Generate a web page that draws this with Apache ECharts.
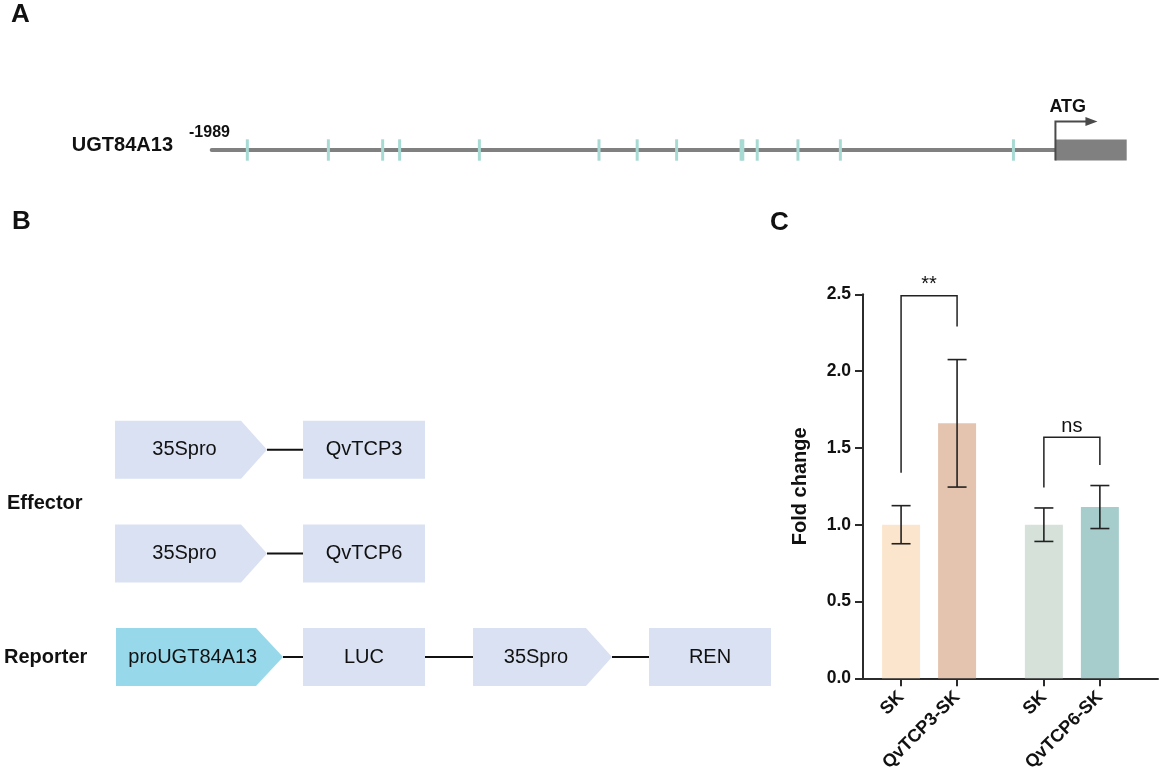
<!DOCTYPE html>
<html lang="en">
<head>
<meta charset="UTF-8">
<title>UGT84A13 promoter / dual-luciferase</title>
<script src="https://cdn.jsdelivr.net/npm/echarts@6/dist/echarts.min.js"></script>
<style>
  body { margin: 0; background: #fff; }
  #main { width: 1162px; height: 779px; }
</style>
</head>
<body>
<div id="main"></div>
<script type="text/javascript">
// ---- A: promoter map (bp relative to ATG) ----
var geneName = 'UGT84A13';
var promoterStart = -1989;
var cdsEnd = 168;
var siteBp = [-1905, -1714, -1586, -1546, -1358, -1076, -986, -893, -741, -737, -703, -607, -507, -99];

// ---- B: constructs ----
var effectorRows = [['35Spro', 'QvTCP3'], ['35Spro', 'QvTCP6']];
var reporterParts = ['proUGT84A13', 'LUC', '35Spro', 'REN'];

// ---- C: fold change ----
var barLabels = ['SK', 'QvTCP3-SK', 'SK', 'QvTCP6-SK'];
var foldMean = [1.00, 1.66, 1.00, 1.115];
var foldSD = [0.124, 0.415, 0.109, 0.14];
var sigPairs = [[0, 1], [2, 3]];
var sigText = ['**', 'ns'];
var sigTop = [2.49, 1.57];
var sigLegGap = [0.215, 0.133];
var yTicks = [0, 0.5, 1.0, 1.5, 2.0, 2.5];

var FONT = '"Liberation Sans", Arial, sans-serif';
var barColors = ['#FCE5CD', '#E5C4AF', '#D6E1DA', '#A6CDCC'];
var barPos = [0.68, 1.68, 3.23, 4.23];   // group gap between the two pairs
var boxColor = '#D9E1F2';
var proColor = '#97D9EB';
var siteColor = '#A8DAD4';

var myChart = echarts.init(document.getElementById('main'));

// gene backbone + CDS + ATG arrow
function renderGene(params, api) {
    var a = api.coord([promoterStart, 0.5]);
    var b = api.coord([0, 0.5]);
    var c = api.coord([cdsEnd, 0.5]);
    return {
        type: 'group',
        children: [
            {type: 'line', shape: {x1: a[0], y1: a[1], x2: b[0], y2: b[1]},
             style: {stroke: '#808080', lineWidth: 4, lineCap: 'round'}},
            {type: 'rect', shape: {x: b[0], y: b[1] - 10.5, width: c[0] - b[0], height: 21},
             style: {fill: '#808080'}},
            {type: 'polyline', shape: {points: [[b[0], b[1] + 10.5], [b[0], b[1] - 28.5], [b[0] + 32, b[1] - 28.5]]},
             style: {stroke: '#4a4a4a', lineWidth: 2, fill: null}},
            {type: 'polygon', shape: {points: [[b[0] + 30, b[1] - 33], [b[0] + 42, b[1] - 28.5], [b[0] + 30, b[1] - 24]]},
             style: {fill: '#4a4a4a'}},
            {type: 'text', style: {text: 'ATG', x: b[0] - 6, y: b[1] - 43, font: 'bold 18px ' + FONT,
             fill: '#111', textVerticalAlign: 'middle'}}
        ]
    };
}

function renderSite(params, api) {
    var p = api.coord([api.value(0), 0.5]);
    return {type: 'rect', shape: {x: p[0] - 1.5, y: p[1] - 10.7, width: 3, height: 21.4},
            style: {fill: siteColor}};
}

function renderErr(params, api) {
    var x = api.value(0), m = api.value(1), s = api.value(2);
    var t = api.coord([x, m + s]), d = api.coord([x, m - s]);
    var hw = 9.5, st = {stroke: '#222', lineWidth: 1.6};
    return {
        type: 'group',
        children: [
            {type: 'line', shape: {x1: t[0], y1: t[1], x2: d[0], y2: d[1]}, style: st},
            {type: 'line', shape: {x1: t[0] - hw, y1: t[1], x2: t[0] + hw, y2: t[1]}, style: st},
            {type: 'line', shape: {x1: d[0] - hw, y1: d[1], x2: d[0] + hw, y2: d[1]}, style: st}
        ]
    };
}

function renderSig(params, api) {
    var x1 = api.value(0), x2 = api.value(1), top = api.value(2), l = api.value(3), r = api.value(4);
    var k = api.value(5);
    var p1 = api.coord([x1, l]), p2 = api.coord([x1, top]), p3 = api.coord([x2, top]), p4 = api.coord([x2, r]);
    return {
        type: 'group',
        children: [
            {type: 'polyline', shape: {points: [p1, p2, p3, p4]},
             style: {stroke: '#222', lineWidth: 1.5, fill: null}},
            {type: 'text', style: {text: sigText[k], x: (p2[0] + p3[0]) / 2, y: p2[1] - 1,
             font: '20px ' + FONT, fill: '#111', textAlign: 'center', textVerticalAlign: 'bottom'}}
        ]
    };
}

// panel B shapes
var graphics = [];
function addText(txt, x, y, font, align) {
    graphics.push({type: 'text', style: {text: txt, x: x, y: y, font: font, fill: '#111',
        textAlign: align || 'center', textVerticalAlign: 'middle'}});
}
function addPromoter(txt, x0, flat, tip, yc, fill) {
    var h = 29;
    graphics.push({type: 'polygon', shape: {points: [[x0, yc - h], [flat, yc - h], [tip, yc], [flat, yc + h], [x0, yc + h]]},
        style: {fill: fill}});
    addText(txt, (x0 + (flat + tip) / 2) / 2, yc, '20px ' + FONT);
}
function addBox(txt, x0, x1, yc) {
    graphics.push({type: 'rect', shape: {x: x0, y: yc - 29, width: x1 - x0, height: 58}, style: {fill: boxColor}});
    addText(txt, (x0 + x1) / 2, yc, '20px ' + FONT);
}
function addLink(x0, x1, yc) {
    graphics.push({type: 'line', shape: {x1: x0, y1: yc, x2: x1, y2: yc}, style: {stroke: '#111', lineWidth: 2}});
}

var effY = [449.7, 553.5];
effectorRows.forEach(function (row, i) {
    addPromoter(row[0], 115, 241, 267, effY[i], boxColor);
    addLink(267, 303, effY[i]);
    addBox(row[1], 303, 425, effY[i]);
});
var repY = 657;
addPromoter(reporterParts[0], 116, 256, 283, repY, proColor);
addLink(283, 303, repY);
addBox(reporterParts[1], 303, 425, repY);
addLink(425, 473, repY);
addPromoter(reporterParts[2], 473, 586, 612, repY, boxColor);
addLink(612, 649, repY);
addBox(reporterParts[3], 649, 771, repY);

addText('Effector', 7, 503, 'bold 20px ' + FONT, 'left');
addText('Reporter', 4, 657, 'bold 20px ' + FONT, 'left');

// panel A labels
addText(geneName, 173, 145, 'bold 20px ' + FONT, 'right');
addText(String(promoterStart), 209.5, 133, 'bold 16px ' + FONT, 'center');

// panel letters
addText('A', 11, 15, 'bold 26px ' + FONT, 'left');
addText('B', 12, 222, 'bold 26px ' + FONT, 'left');
addText('C', 770, 223, 'bold 26px ' + FONT, 'left');

function nearestLabel(v) {
    var best = 0;
    for (var i = 1; i < barPos.length; i++) {
        if (Math.abs(barPos[i] - v) < Math.abs(barPos[best] - v)) best = i;
    }
    return barLabels[best];
}

var option = {
    animation: false,
    backgroundColor: '#fff',
    graphic: {elements: graphics},
    grid: [
        {left: 211.7, width: 915, top: 100, height: 100},
        {left: 863, right: 4, top: 294.3, bottom: 100.7}
    ],
    xAxis: [
        {gridIndex: 0, type: 'value', min: promoterStart, max: cdsEnd, show: false},
        {
            gridIndex: 1, type: 'value', min: 0, max: 5.268,
            splitLine: {show: false},
            axisLine: {show: true, lineStyle: {color: '#2b2b2b', width: 2}},
            axisTick: {show: true, length: 8, customValues: barPos, lineStyle: {color: '#2b2b2b', width: 2}},
            axisLabel: {
                customValues: barPos, rotate: 45, margin: 16,
                fontFamily: FONT, fontWeight: 'bold', fontSize: 18, color: '#111',
                formatter: function (v) { return nearestLabel(v); }
            }
        }
    ],
    yAxis: [
        {gridIndex: 0, type: 'value', min: 0, max: 1, show: false},
        {
            gridIndex: 1, type: 'value', min: 0, max: 2.5, interval: 0.5,
            name: 'Fold change', nameLocation: 'middle', nameGap: 53,
            nameTextStyle: {fontFamily: FONT, fontWeight: 'bold', fontSize: 20, color: '#111'},
            splitLine: {show: false},
            axisLine: {show: true, lineStyle: {color: '#2b2b2b', width: 2}},
            axisTick: {show: true, length: 8, lineStyle: {color: '#2b2b2b', width: 2}},
            axisLabel: {
                margin: 12, fontFamily: FONT, fontWeight: 'bold', fontSize: 17.5, color: '#111',
                formatter: function (v) { return yTicks.indexOf(v) >= 0 ? v.toFixed(1) : ''; }
            }
        }
    ],
    series: [
        {type: 'custom', xAxisIndex: 0, yAxisIndex: 0, renderItem: renderGene, data: [[promoterStart, 0.5]], z: 1},
        {type: 'custom', xAxisIndex: 0, yAxisIndex: 0, renderItem: renderSite,
         data: siteBp.map(function (b) { return [b, 0.5]; }), z: 2},
        {
            type: 'bar', xAxisIndex: 1, yAxisIndex: 1, barWidth: 38,
            data: foldMean.map(function (m, i) {
                return {value: [barPos[i], m], itemStyle: {color: barColors[i]}};
            })
        },
        {type: 'custom', xAxisIndex: 1, yAxisIndex: 1, renderItem: renderErr, z: 3,
         data: foldMean.map(function (m, i) { return [barPos[i], m, foldSD[i]]; })},
        {type: 'custom', xAxisIndex: 1, yAxisIndex: 1, renderItem: renderSig, z: 3,
         data: sigPairs.map(function (p, k) {
             return [barPos[p[0]], barPos[p[1]], sigTop[k],
                     foldMean[p[0]] + foldSD[p[0]] + sigLegGap[k],
                     foldMean[p[1]] + foldSD[p[1]] + sigLegGap[k], k];
         })}
    ]
};
myChart.setOption(option);
</script>
</body>
</html>
